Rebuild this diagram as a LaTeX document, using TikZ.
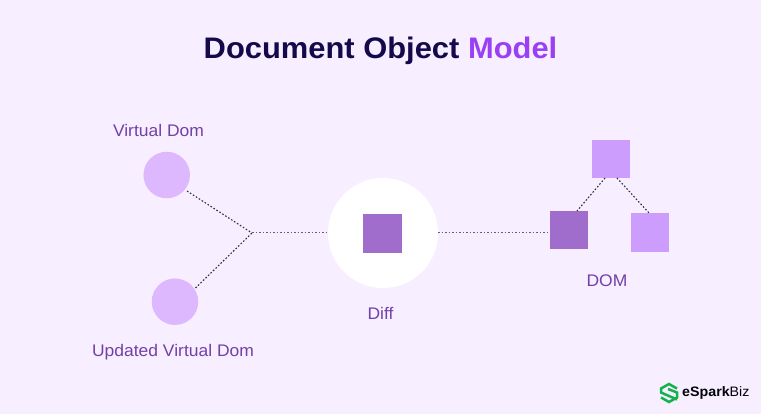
\documentclass[tikz,border=0pt]{standalone}
\usepackage{fontspec}
\setmainfont{Liberation Sans}[FakeStretch=1.04]
\definecolor{bg}{HTML}{F7EFFF}
\definecolor{circ}{HTML}{DDB8FF}
\definecolor{light}{HTML}{CC9DFD}
\definecolor{dark}{HTML}{A06DCD}
\definecolor{lbl}{HTML}{7340A8}
\definecolor{navy}{HTML}{140A4B}
\definecolor{vio}{HTML}{9B3FF5}
\definecolor{lgreen}{HTML}{12B24C}
\tikzset{
 round/.style={circle,fill=circ,inner sep=0pt,minimum size=46.5pt},
 sq/.style={rectangle,inner sep=0pt,minimum size=38.5pt},
 lab/.style={text=lbl,font=\fontsize{16.8}{19}\selectfont,inner sep=0pt},
 dots/.style={draw=black!80!bg,line width=1.1pt,dash pattern=on 1.6pt off 1.9pt},
 hdots/.style={draw=black!60!bg,line width=1pt,dash pattern=on 1.6pt off 1.9pt},
 logoline/.style={lgreen,line width=2.5pt,line join=miter}
}
\begin{document}
\begin{tikzpicture}[x=1pt,y=-1pt]
\useasboundingbox (0,0) rectangle (761,414);
\fill[bg] (0,0) rectangle (761,414);
\node[inner sep=0pt,font=\fontsize{29.7}{32}\selectfont\bfseries,text=navy] (title) at (380.5,51) {Document Object \textcolor{vio}{Model}};
\node[round] (vd) at (166.7,175) {};
\node[round] (uvd) at (175,301.7) {};
\node[circle,fill=white,inner sep=0pt,minimum size=110pt] (diffc) at (383,233) {};
\node[sq,fill=dark] (diffs) at (382.5,233.5) {};
\node[sq,fill=light] (top) at (611,159) {};
\node[sq,fill=dark] (left) at (569,230) {};
\node[sq,fill=light] (right) at (650,232.5) {};
\coordinate (j) at (252,233);
\coordinate (a) at (187,191);
\coordinate (b) at (195.5,288);
\coordinate (t1) at (605,178);
\coordinate (t2) at (617,178);
\coordinate (l1) at (577,211);
\coordinate (r1) at (649,213);
\draw[dots] (a) -- (j);
\draw[dots] (b) -- (j);
\draw[hdots] (j) -- (diffc.west);
\draw[hdots] (diffc.east) -- (left.west |- diffc.east);
\draw[dots] (t1) -- (l1);
\draw[dots] (t2) -- (r1);
\node[lab] (l-vd) at (158.5,130) {Virtual Dom};
\node[lab] (l-uvd) at (173,352) {Updated Virtual Dom};
\node[lab] (l-diff) at (380.5,313) {Diff};
\node[lab] (l-dom) at (607,281) {DOM};
% logo
\draw[logoline] (677,388.5) -- (669,384) -- (661,388.5) -- (661,392.5) -- (677,399.5);
\draw[logoline] (661,397.5) -- (669,402) -- (677,397.5) -- (677,392.5) -- (668,389);
\node[inner sep=0pt,anchor=west,text=black!85!navy,font=\fontsize{13.7}{16}\selectfont] (brand) at (682,393) {\textbf{eSpark}Biz};
\end{tikzpicture}
\end{document}
